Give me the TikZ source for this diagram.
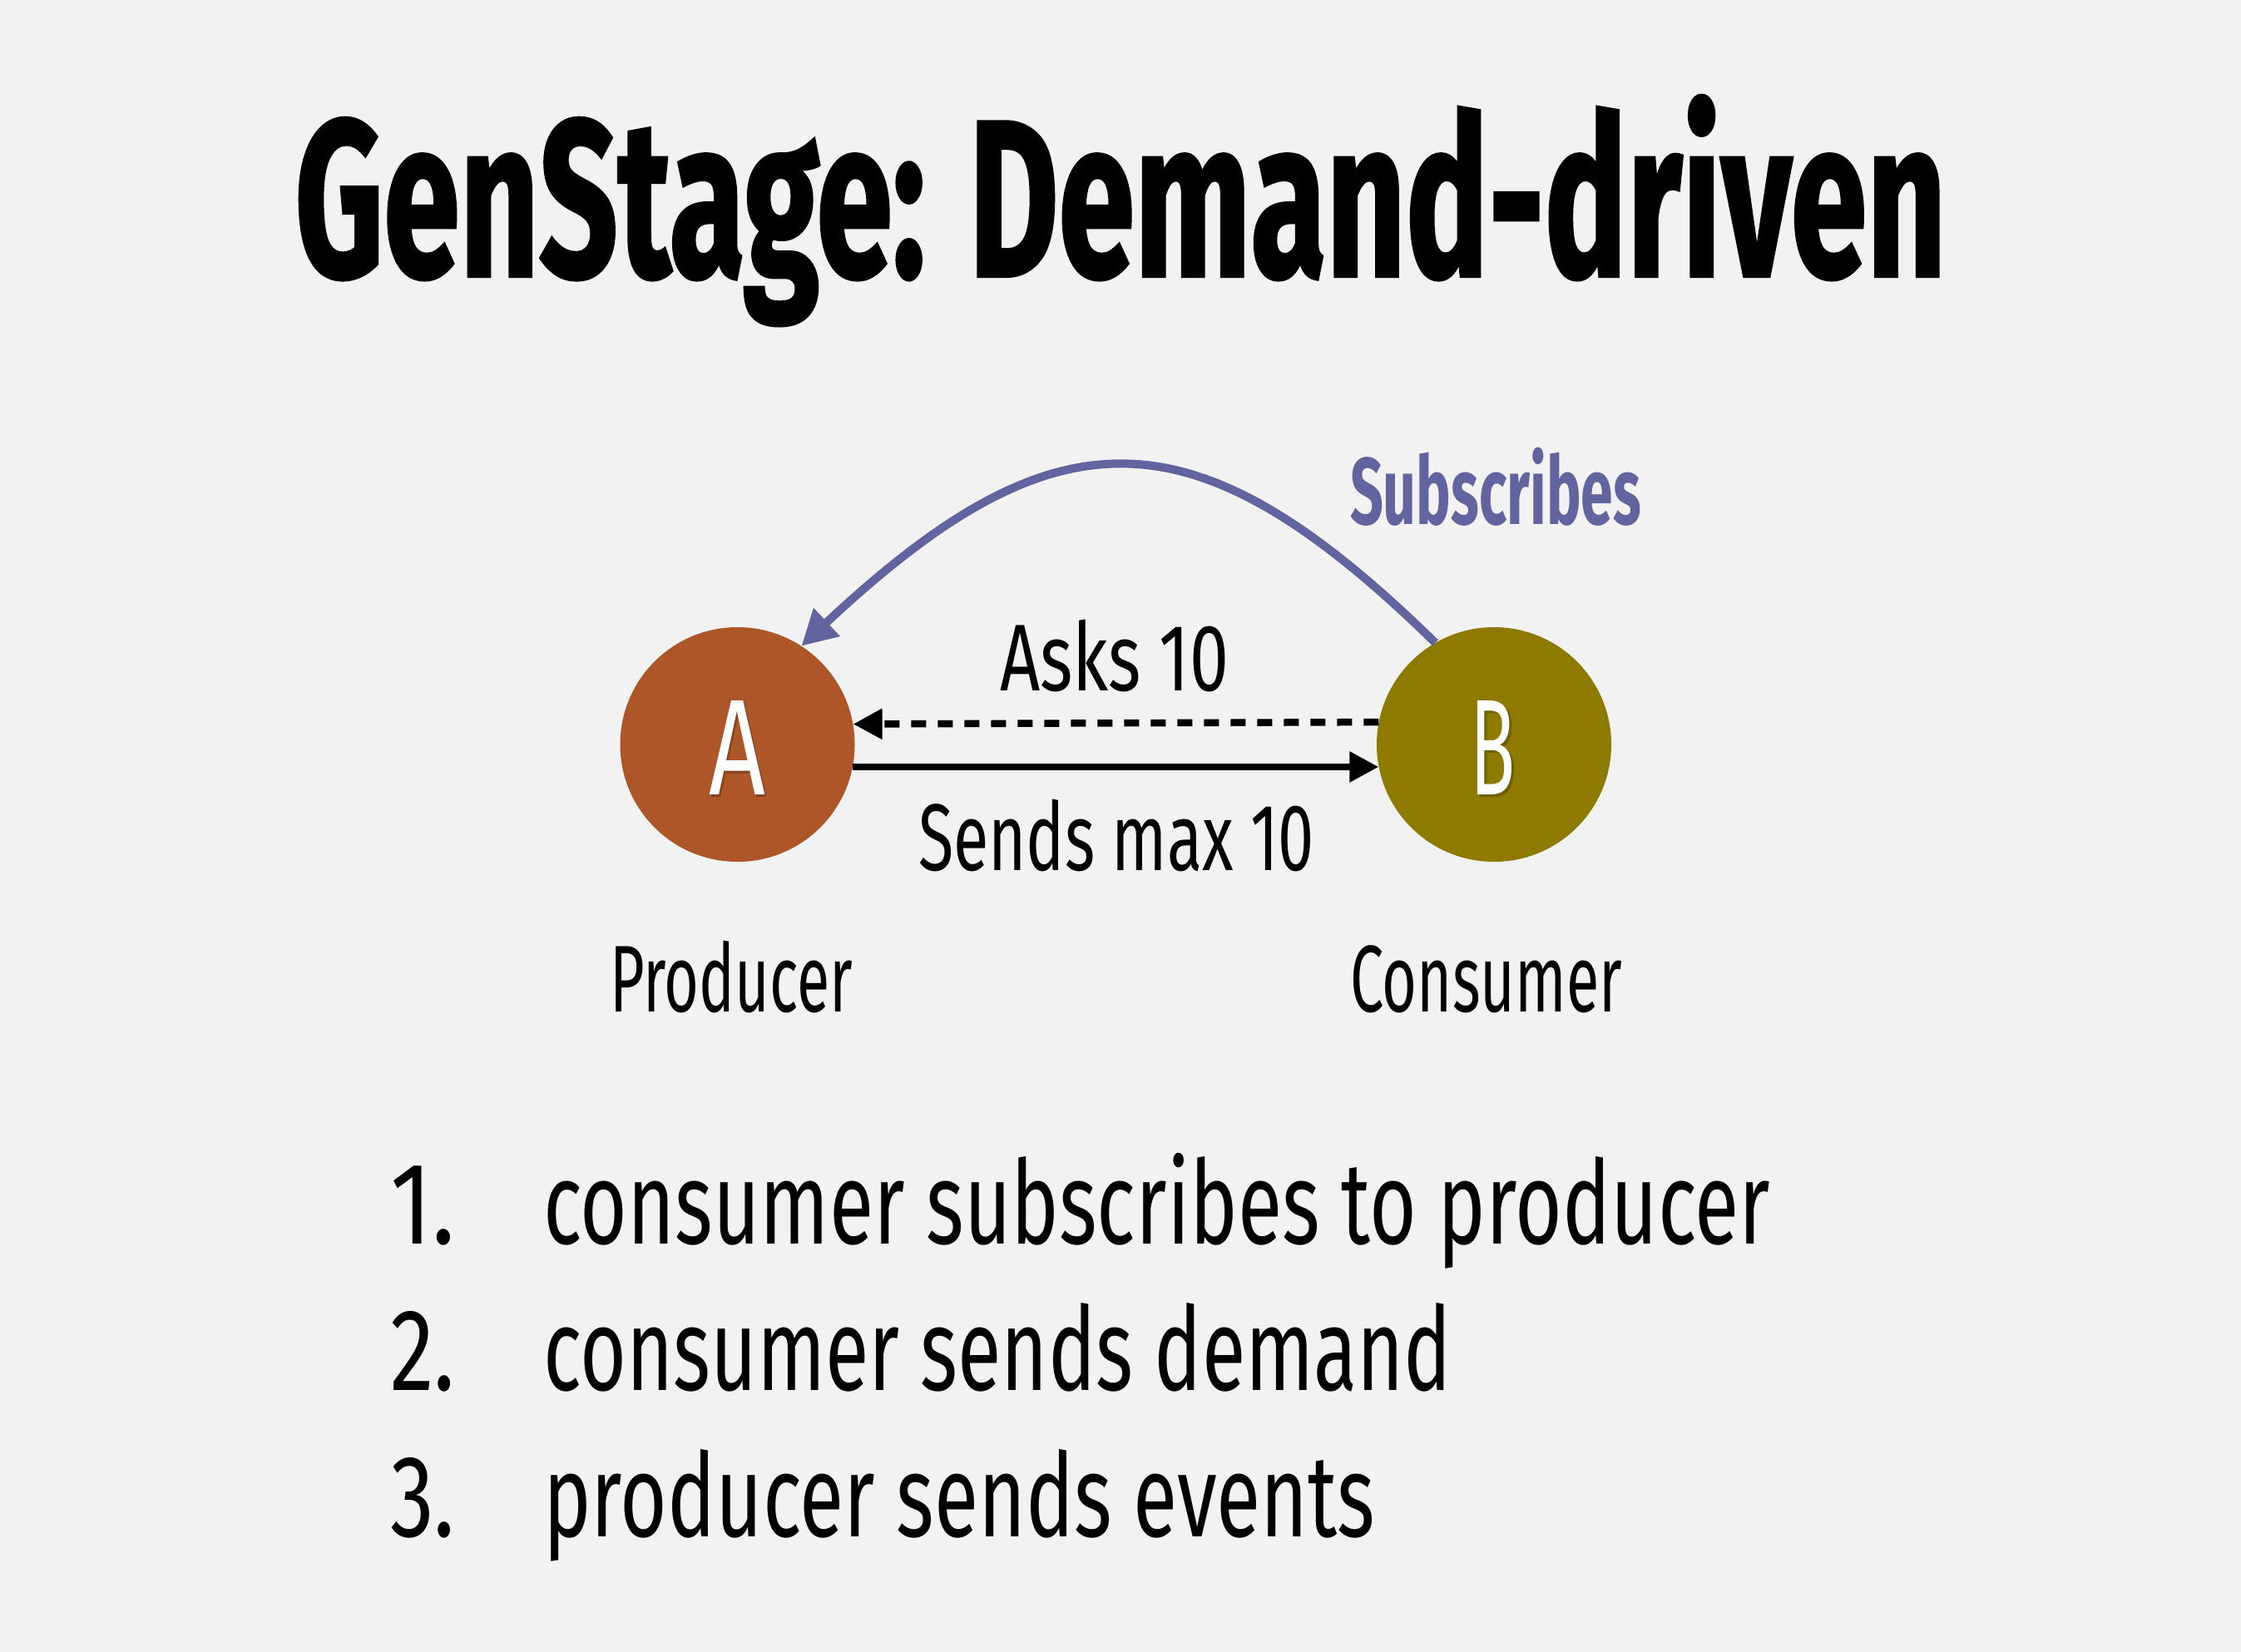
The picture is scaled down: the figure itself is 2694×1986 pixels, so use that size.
\documentclass[tikz,border=0pt]{standalone}
\usepackage{fontspec}
\setmainfont{Fira Sans}
\newfontfamily\titlefont{Fira Sans}[UprightFont=* Bold, FakeBold=1.5]
\usepackage{graphicx}
\usetikzlibrary{arrows.meta}
\definecolor{bg}{HTML}{F2F2F2}
\definecolor{prodc}{HTML}{AD5628}
\definecolor{consc}{HTML}{8E7A00}
\definecolor{subc}{HTML}{6264A0}
\newcommand\hfit[2]{\begingroup\setbox0=\hbox{#2}\pgfmathsetmacro\hfitratio{#1/\the\wd0}\scalebox{\hfitratio}[1]{\box0}\endgroup}
\tikzset{
  lbl/.style={inner sep=0pt, anchor=base, text=black},
  stage/.style={circle, minimum size=282pt, inner sep=0pt},
  flow/.style={line width=8.5pt, -{Triangle[length=35pt,width=35pt]}},
  labelfont/.style={font=\fontsize{114}{130}\selectfont},
  listfont/.style={font=\fontsize{140}{160}\selectfont},
  letterfont/.style={font=\fontsize{164}{180}\selectfont},
}
\begin{document}
\begin{tikzpicture}[x=1pt,y=-1pt]
\fill[bg] (0,0) rectangle (2694,1986);
\node[lbl, font=\titlefont\fontsize{268}{300}\selectfont] (title) at (1347,332) {\hfit{1985}{GenStage: Demand-driven}};
% stages
\node[stage, fill=prodc] (A) at (886.5,895) {};
\node[stage, fill=consc] (B) at (1796,895) {};
\node[lbl, letterfont, text=black, opacity=.22] (Ash) at (888.5,958) {\hfit{68}{A}};
\node[lbl, letterfont, text=white] (Alet) at (886,955) {\hfit{68}{A}};
\node[lbl, letterfont, text=black, opacity=.22] (Bsh) at (1797,958) {\hfit{54}{B}};
\node[lbl, letterfont, text=white] (Blet) at (1794.5,955) {\hfit{54}{B}};
% connectors
\draw[flow, dash pattern=on 18pt off 14pt] (B.169.8) -- (A.10.2);
\draw[flow] (A.-11.5) -- (B.191.5);
\draw[subc, line width=10pt, -{Triangle[length=42pt,width=44pt]}] (B.120) .. controls (1436,489.5) and (1270,489.5) .. (A.57);
% labels
\node[lbl, labelfont] (asks) at (1339.5,830) {\hfit{275}{Asks 10}};
\node[lbl, labelfont] (sends) at (1342,1046) {\hfit{476}{Sends max 10}};
\node[lbl, labelfont] (prod) at (879,1216) {\hfit{292}{Producer}};
\node[lbl, labelfont] (cons) at (1786.5,1216) {\hfit{327}{Consumer}};
\node[lbl, labelfont, text=subc] (subs) at (1798,630) {\bfseries\hfit{350}{Subscribes}};
% list
\node[lbl, listfont, anchor=base west] (n1) at (469,1495) {\hfit{78}{1.}};
\node[lbl, listfont, anchor=base west] (t1) at (653,1495) {\hfit{1475}{consumer subscribes to producer}};
\node[lbl, listfont, anchor=base west] (n2) at (469,1671) {\hfit{78}{2.}};
\node[lbl, listfont, anchor=base west] (t2) at (653,1671) {\hfit{1092}{consumer sends demand}};
\node[lbl, listfont, anchor=base west] (n3) at (469,1847) {\hfit{78}{3.}};
\node[lbl, listfont, anchor=base west] (t3) at (653,1847) {\hfit{1000}{producer sends events}};
\end{tikzpicture}
\end{document}
